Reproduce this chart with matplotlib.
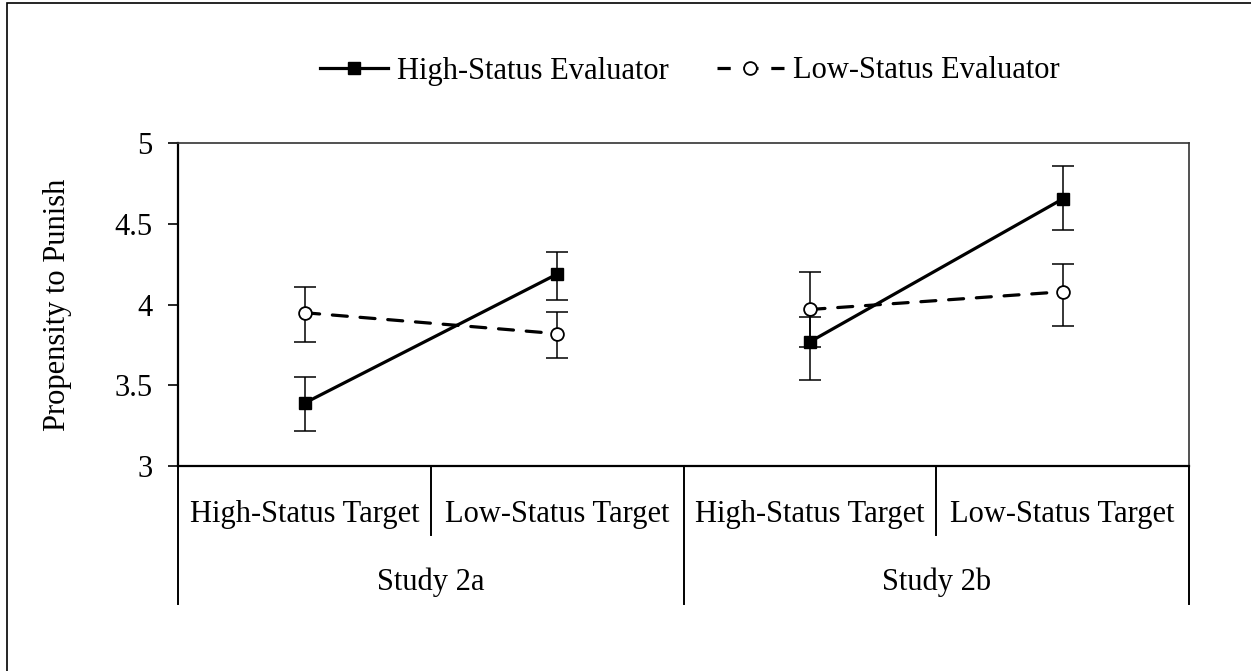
import matplotlib
matplotlib.use("Agg")
import matplotlib.pyplot as plt
from matplotlib.lines import Line2D
from matplotlib.patches import Rectangle

plt.rcParams['font.family'] = ['Liberation Serif', 'DejaVu Serif']

# data
targets = ['High-Status Target', 'Low-Status Target', 'High-Status Target', 'Low-Status Target']
studies = ['Study 2a', 'Study 2b']

high_eval = [3.39, 4.19, 3.77, 4.655]
high_err_lo = [0.17, 0.16, 0.24, 0.19]
high_err_hi = [0.16, 0.135, 0.155, 0.205]

low_eval = [3.95, 3.82, 3.97, 4.08]
low_err_lo = [0.18, 0.15, 0.235, 0.215]
low_err_hi = [0.16, 0.135, 0.235, 0.17]

series_names = ['High-Status Evaluator', 'Low-Status Evaluator']

FS = 22
W, H = 1251, 671
fig = plt.figure(figsize=(W / 100, H / 100), dpi=100)

# axes placement (pixels measured on the reference)
left, right, top, bottom = 178.3, 1189, 143.3, 466
ax = fig.add_axes([left / W, 1 - bottom / H, (right - left) / W, (bottom - top) / H])

x = list(range(len(targets)))
dash = (4.7, 4.0)

# error bars first, markers on top
ax.errorbar(x, high_eval, yerr=[high_err_lo, high_err_hi], fmt='none',
            ecolor='black', elinewidth=1.1, capsize=8, capthick=1.1, zorder=2)
ax.errorbar(x, low_eval, yerr=[low_err_lo, low_err_hi], fmt='none',
            ecolor='black', elinewidth=1.1, capsize=8, capthick=1.1, zorder=2)

# each study is its own pair of points
for s in range(len(studies)):
    idx = [2 * s, 2 * s + 1]
    ax.plot(idx, [low_eval[i] for i in idx], color='black', lw=2.3,
            dashes=dash, dash_capstyle='round', zorder=3)
    ax.plot(idx, [high_eval[i] for i in idx], color='black', lw=2.3,
            solid_capstyle='butt', zorder=4)
ax.plot(x, low_eval, ls='none', marker='o', ms=9.2, mfc='white', mec='black',
        mew=1.3, zorder=5)
ax.plot(x, high_eval, ls='none', marker='s', ms=9.2, mfc='black', mec='black',
        zorder=5)

ax.set_xlim(-0.5, len(targets) - 0.5)
ax.set_ylim(3, 5)
ax.set_yticks([3, 3.5, 4, 4.5, 5])
ax.set_yticklabels(['3', '3.5', '4', '4.5', '5'])
ax.tick_params(axis='y', direction='out', length=7, width=1.2, pad=11.5,
               labelsize=FS, colors='black')
ax.set_xticks([])

for sp in ['left', 'bottom']:
    ax.spines[sp].set_linewidth(1.6)
    ax.spines[sp].set_color('black')
for sp in ['top', 'right']:
    ax.spines[sp].set_linewidth(1.2)
    ax.spines[sp].set_color('#333333')

# multi-level category axis
trans = ax.get_xaxis_transform()
ax_h = bottom - top
def yfrac(py):
    return (bottom - py) / ax_h

for i, lab in enumerate(targets):
    ax.text(i, yfrac(521.7), lab, transform=trans, ha='center', va='baseline',
            fontsize=FS, clip_on=False)
for s, lab in enumerate(studies):
    ax.text(2 * s + 0.5, yfrac(590), lab, transform=trans, ha='center',
            va='baseline', fontsize=FS, clip_on=False)

for b in [-0.5, 0.5, 1.5, 2.5, 3.5]:
    end = 604 if b in (-0.5, 1.5, 3.5) else 535
    ax.add_line(Line2D([b, b], [0, yfrac(end)], transform=trans, color='black',
                       lw=1.4, clip_on=False))

fig.text(57 / W, 1 - (top + bottom) / 2 / H, 'Propensity to Punish',
         rotation=90, ha='center', va='center', fontsize=FS)

# legend: dashed handle shifted so the middle dash sits under the circle
handles = [
    Line2D([], [], color='black', lw=2.3, marker='s', ms=9.2, mfc='black'),
    Line2D([], [], color='black', lw=2.3, linestyle=(0.56, dash), marker='o',
           ms=9.2, mfc='white', mec='black', mew=1.3),
]
fig.legend(handles, series_names, loc='center', bbox_to_anchor=(690 / W, 1 - 71 / H),
           ncol=2, frameon=False, fontsize=FS, handlelength=2.2,
           handletextpad=0.3, columnspacing=1.57, borderpad=0, borderaxespad=0)

# outer chart border (only top and left edges are inside the image)
fig.patches.append(Rectangle((7.3 / W, -0.2), 1.5, 1.2 - 3.3 / H,
                             transform=fig.transFigure, fill=False,
                             edgecolor='black', lw=1.2, clip_on=False))

fig.savefig('out.png', dpi=100)
